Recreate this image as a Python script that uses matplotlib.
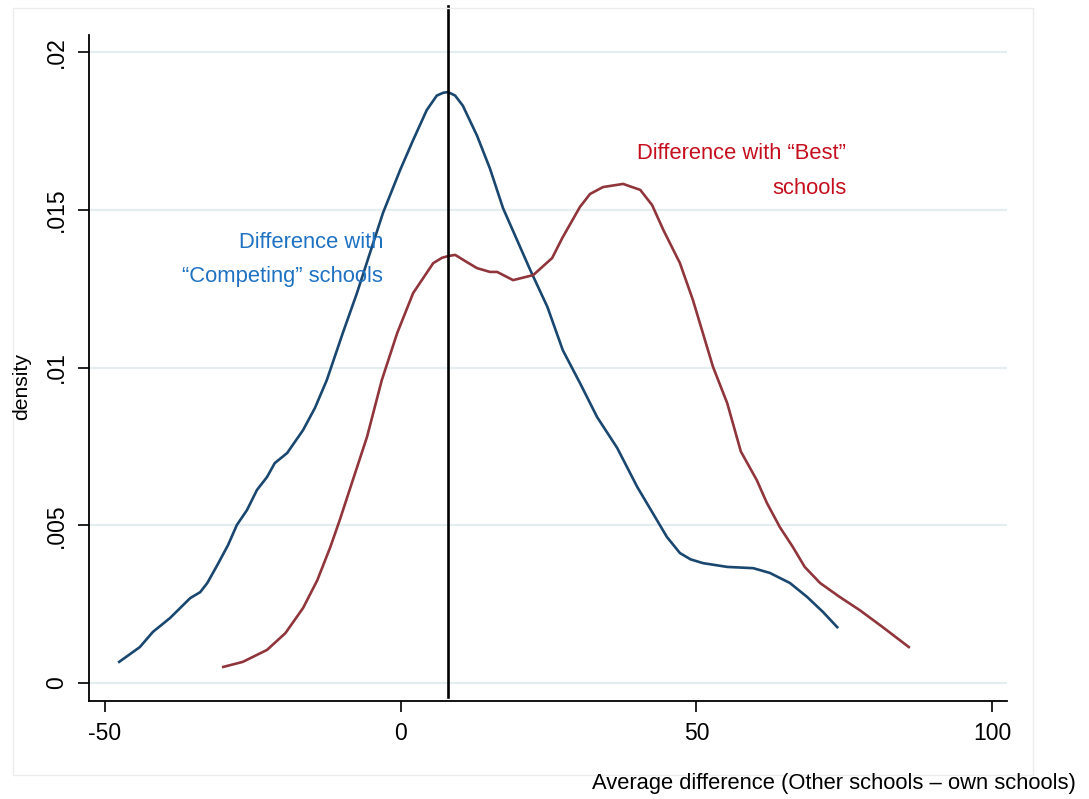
import matplotlib.pyplot as plt
from matplotlib.patches import Rectangle

# kernel density estimates read off at a set of grid points
comp_x = [-47.6, -44.1, -41.9, -39.0, -35.6, -33.9, -32.7, -31.0, -29.2, -27.7,
          -26.0, -24.3, -22.6, -21.3, -19.2, -16.5, -14.5, -12.5, -9.8, -7.4,
          -5.2, -3.0, -0.1, 2.1, 4.4, 6.1, 7.2, 8.0, 9.2, 10.5, 12.9, 15.1,
          17.3, 21.9, 24.8, 27.4, 30.3, 33.2, 36.6, 40.0, 42.6, 45.0,
          47.2, 49.0, 51.1, 55.2, 59.6, 62.4, 65.8, 68.7, 71.4, 73.8]
comp_y = [0.00067, 0.00114, 0.00162, 0.00206, 0.00269, 0.00288, 0.00317, 0.00374, 0.00437, 0.00501,
          0.00548, 0.00612, 0.00653, 0.00697, 0.00729, 0.00802, 0.00872, 0.00960, 0.01109, 0.01236,
          0.01363, 0.01490, 0.01626, 0.01721, 0.01816, 0.01862, 0.01871, 0.01873, 0.01862, 0.01830, 0.01735, 0.01630,
          0.01505, 0.01309, 0.01192, 0.01055, 0.00951, 0.00843, 0.00745, 0.00621, 0.00539, 0.00463,
          0.00412, 0.00392, 0.00380, 0.00368, 0.00364, 0.00349, 0.00317, 0.00273, 0.00225, 0.00177]

best_x = [-30.0, -26.7, -22.6, -19.5, -16.5, -14.1, -11.9, -10.3, -8.1, -5.7,
          -3.2, -0.6, 2.1, 5.5, 7.0, 8.0, 9.2, 11.2, 12.9, 15.1, 16.3,
          19.0, 22.4, 25.6, 27.3, 30.3, 32.0, 34.2, 37.6, 40.5, 42.5, 44.4,
          47.2, 49.4, 52.8, 55.2, 57.5, 60.2, 61.9, 64.1, 66.3, 68.3,
          70.9, 74.2, 77.6, 81.5, 85.9]
best_y = [0.00051, 0.00067, 0.00105, 0.00158, 0.00238, 0.00326, 0.00431, 0.00517, 0.00643, 0.00780,
          0.00960, 0.01109, 0.01236, 0.01331, 0.01348, 0.01353, 0.01357, 0.01334, 0.01315, 0.01303, 0.01303,
          0.01277, 0.01293, 0.01347, 0.01410, 0.01509, 0.01550, 0.01572, 0.01582, 0.01563, 0.01515, 0.01436,
          0.01331, 0.01214, 0.01002, 0.00887, 0.00734, 0.00643, 0.00571, 0.00494, 0.00431, 0.00368,
          0.00317, 0.00273, 0.00231, 0.00177, 0.00114]

x_ticks = [-50, 0, 50, 100]
y_ticks = [0, 0.005, 0.01, 0.015, 0.02]
y_labels = ['0', '.005', '.01', '.015', '.02']
ref_x = 8

plt.rcParams['font.family'] = ['Liberation Sans', 'DejaVu Sans']

fig = plt.figure(figsize=(10.89, 7.99), dpi=100)
fig.patches.append(Rectangle((13 / 1089, 1 - 775 / 799), 1020 / 1089, 767 / 799,
                             transform=fig.transFigure, fill=False,
                             edgecolor='#ececec', lw=1))
ax = fig.add_axes([89 / 1089, 98 / 799, 918 / 1089, 666 / 799])

ax.plot(comp_x, comp_y, color='#1a476f', lw=1.9, zorder=3)
ax.plot(best_x, best_y, color='#90353b', lw=1.9, zorder=3)
ax.axvline(ref_x, ymin=0.006, ymax=1.0435, color='black', lw=1.9, clip_on=False, zorder=4)

ax.set_xlim(-52.7, 102.5)
ax.set_ylim(-0.00057, 0.02054)
ax.set_xticks(x_ticks)
ax.set_xticklabels([str(v) for v in x_ticks])
ax.set_yticks(y_ticks)
ax.set_yticklabels(y_labels, rotation=90, va='center')
ax.tick_params(direction='out', length=8, width=1.2, labelsize=16.5, pad=7)
ax.grid(axis='y', color='#e4edf0', lw=1.6)
ax.set_axisbelow(True)
for s in ['top', 'right']:
    ax.spines[s].set_visible(False)
for s in ['left', 'bottom']:
    ax.spines[s].set_linewidth(1.3)

blue_txt = '#1f72c2'
red_txt = '#c4101e'
fs = 15.8
ax.text(-3.0, 0.01395, 'Difference with', color=blue_txt, fontsize=fs, ha='right', va='center')
ax.text(-3.0, 0.01287, '\u201cCompeting\u201d schools', color=blue_txt, fontsize=fs, ha='right', va='center')
ax.text(75.3, 0.01677, 'Difference with \u201cBest\u201d', color=red_txt, fontsize=fs, ha='right', va='center')
ax.text(75.3, 0.01569, 'schools', color=red_txt, fontsize=fs, ha='right', va='center')

fig.text(22 / 1089, 1 - 387 / 799, 'density', rotation=90, fontsize=15.2, ha='center', va='center')
fig.text(1076 / 1089, 1 - 783 / 799, 'Average difference (Other schools \u2013 own schools)',
         fontsize=15.8, ha='right', va='center')

fig.savefig('out.png', dpi=100)
